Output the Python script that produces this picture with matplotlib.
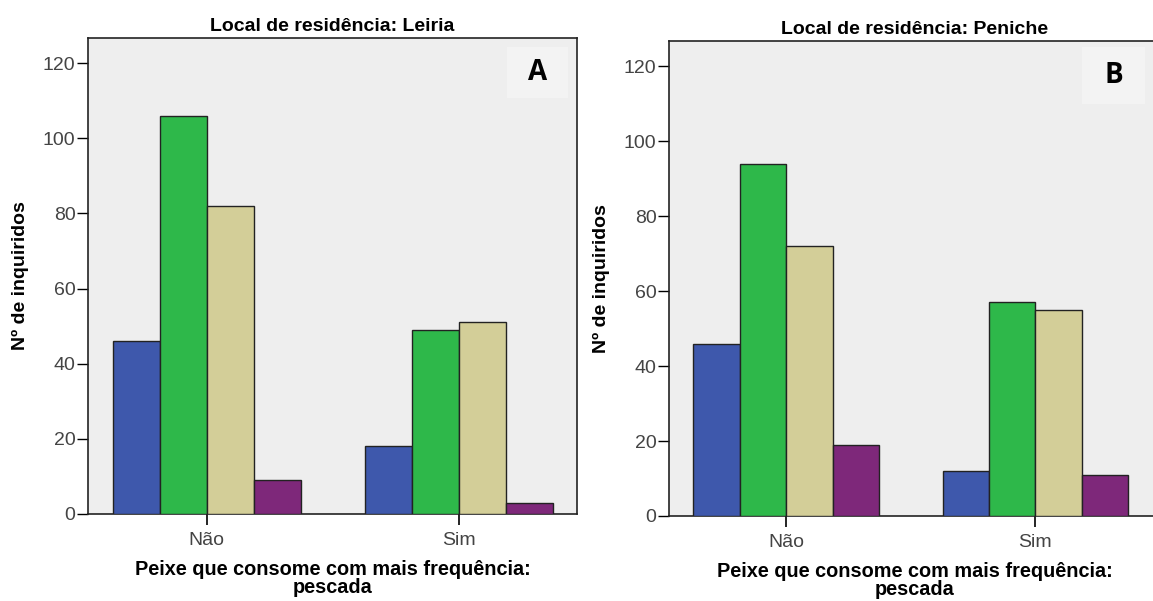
import numpy as np
import matplotlib
matplotlib.use('Agg')
import matplotlib.pyplot as plt
from matplotlib.patches import Rectangle

categories = ['Não', 'Sim']
leiria = [[46, 18], [106, 49], [82, 51], [9, 3]]
peniche = [[46, 12], [94, 57], [72, 55], [19, 11]]
titles = ['Local de residência: Leiria', 'Local de residência: Peniche']
letters = ['A', 'B']
colors = ['#3e58ac', '#2eb84a', '#d3ce98', '#7e287a']

plt.rcParams['font.family'] = ['Liberation Sans', 'DejaVu Sans']

fig = plt.figure(figsize=(11.53, 6.01), dpi=100)
rects = [[88/1153, 1-514/601, (577-88)/1153, (514-38)/601],
         [669/1153, 1-516/601, (1160-669)/1153, (516-41)/601]]
boxes = [(507, 568, 47, 98), (1082, 1145, 47, 104)]

x = np.arange(len(categories))
w = 0.186
for k, data in enumerate([leiria, peniche]):
    ax = fig.add_axes(rects[k])
    ax.set_facecolor('#eeeeee')
    for i, vals in enumerate(data):
        ax.bar(x + (i - 1.5) * w, vals, width=w, color=colors[i],
               edgecolor='#222222', linewidth=1, zorder=3)
    ax.set_xlim(-0.47, 1.466 if k == 0 else 1.5)
    ax.set_ylim(0, 126.7)
    ax.set_yticks([0, 20, 40, 60, 80, 100, 120])
    ax.set_xticks(x)
    ax.set_xticklabels(categories)
    ax.tick_params(axis='y', length=8, width=1, labelsize=14, labelcolor='#444444', pad=1)
    ax.tick_params(axis='x', length=8, width=1.2, labelsize=14, labelcolor='#444444', pad=5)
    for s in ax.spines.values():
        s.set_linewidth(1.2)
        s.set_color('#222222')
    if k == 1:
        ax.spines['right'].set_visible(False)
    ax.set_title(titles[k], fontsize=14, fontweight='bold', pad=5)
    ax.set_ylabel('Nº de inquiridos', fontsize=14, fontweight='bold', labelpad=10)
    ax.set_xlabel('Peixe que consome com mais frequência:\npescada', fontsize=14.3,
                  fontweight='bold', labelpad=8, linespacing=0.95)
    # letter box
    x0, x1, y0, y1 = boxes[k]
    fig.patches.append(Rectangle((x0/1153, 1-y1/601), (x1-x0)/1153, (y1-y0)/601,
                                 transform=fig.transFigure, facecolor='#f3f3f3',
                                 edgecolor='none', zorder=5))
    fig.text((x0+x1)/2/1153, 1-(y0+y1)/2/601, letters[k], fontsize=20,
             fontweight='bold', ha='center', va='center', family='Open Sans', zorder=6)

fig.savefig('out.png', dpi=100)
